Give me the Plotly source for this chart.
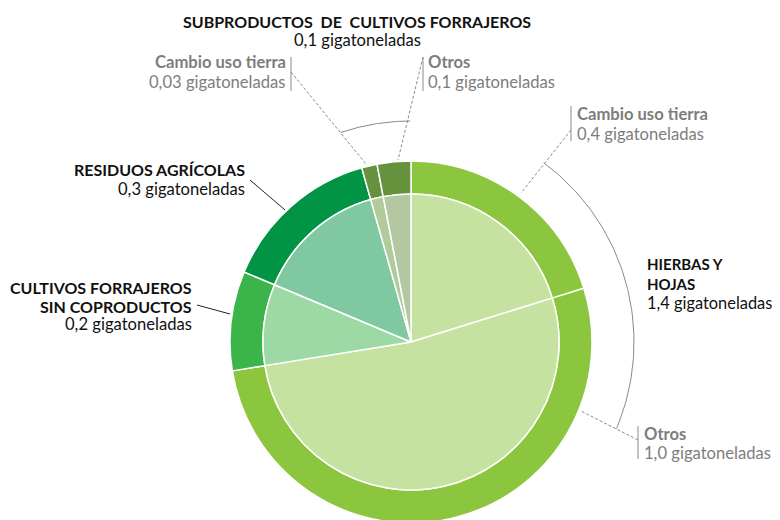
import numpy as np
import plotly.graph_objects as go

# Emisiones por tipo de alimento (gigatoneladas), en el orden de las agujas del reloj
grupos = ["Hierbas y hojas", "Hierbas y hojas", "Cultivos forrajeros sin coproductos",
          "Residuos agrícolas", "Subproductos de cultivos forrajeros",
          "Subproductos de cultivos forrajeros"]
subgrupos = ["Cambio uso tierra", "Otros", "", "", "Cambio uso tierra", "Otros"]
valores = [0.41, 1.06, 0.18, 0.29, 0.028, 0.061]

colores_grupo = ["#8cc63f", "#8cc63f", "#3bb54a", "#009444", "#67923d", "#67923d"]
colores_sub = ["#c6e2a1", "#c6e2a1", "#9dd9a4", "#7fc8a0", "#b1cb9b", "#b3c8a0"]

W, H = 780, 520
OFF = 8                # la página añade 8 px de margen al cuerpo
cx, cy = 411, 342      # centro del gráfico (coordenadas de pantalla)
R_ext, R_int = 181, 148

FONT = "Lato"
GRIS = "#7d7d7d"
NEGRO = "#111111"
T_REG, T_NEG = 16.6, 16

fig = go.Figure()
nombres = [f"{g} - {s}" if s else g for g, s in zip(grupos, subgrupos)]


def dominio(r):
    x0, y0 = cx - OFF, cy - OFF
    return dict(x=[(x0 - r) / W, (x0 + r) / W], y=[(H - y0 - r) / H, (H - y0 + r) / H])


# anillo exterior (grupos)
fig.add_trace(go.Pie(
    values=valores, labels=nombres,
    marker=dict(colors=colores_grupo, line=dict(color="white", width=1.5)),
    hole=R_int / R_ext, sort=False, direction="clockwise", rotation=0,
    textinfo="none", hoverinfo="skip", showlegend=False, domain=dominio(R_ext)))

# pastel interior (subgrupos)
fig.add_trace(go.Pie(
    values=valores, labels=nombres,
    marker=dict(colors=colores_sub, line=dict(color="white", width=1.5)),
    sort=False, direction="clockwise", rotation=0,
    textinfo="none", hoverinfo="skip", showlegend=False, domain=dominio(R_int)))


def arco(r, a0, a1):
    a = np.radians(np.linspace(a0, a1, 80))
    return cx + r * np.sin(a), cy - r * np.cos(a)


# llaves en arco
for r, a0, a1 in [(221, 341.5, 359.8), (223, 36.5, 112.8)]:
    x, y = arco(r, a0, a1)
    fig.add_trace(go.Scatter(x=x, y=y, mode="lines", line=dict(color="#8a8a8a", width=1),
                             hoverinfo="skip", showlegend=False))

# líneas de referencia punteadas
for (x0, y0), (x1, y1) in [((291, 72), (366, 164)), ((423, 57), (398, 160)),
                           ((571, 130), (521, 193)), ((638, 440), (581, 411))]:
    fig.add_trace(go.Scatter(x=[x0, x1], y=[y0, y1], mode="lines",
                             line=dict(color="#8a8a8a", width=1, dash="3px,2px"),
                             hoverinfo="skip", showlegend=False))

# líneas de referencia sólidas
for (x0, y0), (x1, y1) in [((250, 180), (285, 210)), ((197, 305), (230, 314))]:
    fig.add_trace(go.Scatter(x=[x0, x1], y=[y0, y1], mode="lines",
                             line=dict(color="#222222", width=1),
                             hoverinfo="skip", showlegend=False))

# separadores verticales junto a las etiquetas grises
for x, y0, y1 in [(291, 57, 91), (423, 57, 91), (571, 106, 141), (638, 426, 459)]:
    fig.add_shape(type="line", xref="x", yref="y", x0=x, x1=x, y0=y0, y1=y1,
                  line=dict(color="#8a8a8a", width=1))

# (texto, tamaño, x, y, anclaje, color)
lineas = [
    ("<b>SUBPRODUCTOS\u00a0 DE\u00a0 CULTIVOS FORRAJEROS</b>", T_NEG, 357, 21, "center", NEGRO),
    ("0,1 gigatoneladas", T_REG, 357, 40, "center", NEGRO),
    ("<b>Cambio uso tierra</b>", T_REG, 287, 62, "right", GRIS),
    ("0,03 gigatoneladas", T_REG, 287, 82, "right", GRIS),
    ("<b>Otros</b>", T_REG, 427, 62, "left", GRIS),
    ("0,1 gigatoneladas", T_REG, 427, 82, "left", GRIS),
    ("<b>Cambio uso tierra</b>", T_REG, 576, 114, "left", GRIS),
    ("0,4 gigatoneladas", T_REG, 576, 134, "left", GRIS),
    ("<b>HIERBAS Y<br>HOJAS</b><br><span style='font-size:16.4px'>1,4 gigatoneladas</span>",
     15, 646, 283, "left", NEGRO),
    ("<b>Otros</b>", T_REG, 643, 434, "left", GRIS),
    ("1,0 gigatoneladas", T_REG, 643, 453, "left", GRIS),
    ("<b>RESIDUOS AGRÍCOLAS</b>", T_NEG, 246, 169, "right", NEGRO),
    ("0,3 gigatoneladas", T_REG, 246, 189, "right", NEGRO),
    ("<b>CULTIVOS FORRAJEROS</b>", T_NEG, 193, 287, "right", NEGRO),
    ("<b>SIN COPRODUCTOS</b>", T_NEG, 193, 306, "right", NEGRO),
    ("0,2 gigatoneladas", T_REG, 193, 324, "right", NEGRO),
]
for texto, tam, x, y, anc, col in lineas:
    fig.add_annotation(text=texto, x=x, y=y, xref="x", yref="y", xanchor=anc, yanchor="middle",
                       align=anc, showarrow=False, borderpad=0,
                       font=dict(family=FONT, size=tam, color=col))

# ejes invisibles en coordenadas de pantalla
fig.update_xaxes(range=[OFF, OFF + W], visible=False, fixedrange=True)
fig.update_yaxes(range=[OFF + H, OFF], visible=False, fixedrange=True)
fig.update_layout(width=W, height=H, margin=dict(l=0, r=0, t=0, b=0),
                  paper_bgcolor="white", plot_bgcolor="white", showlegend=False,
                  font=dict(family=FONT))

fig.write_html("out.html")
